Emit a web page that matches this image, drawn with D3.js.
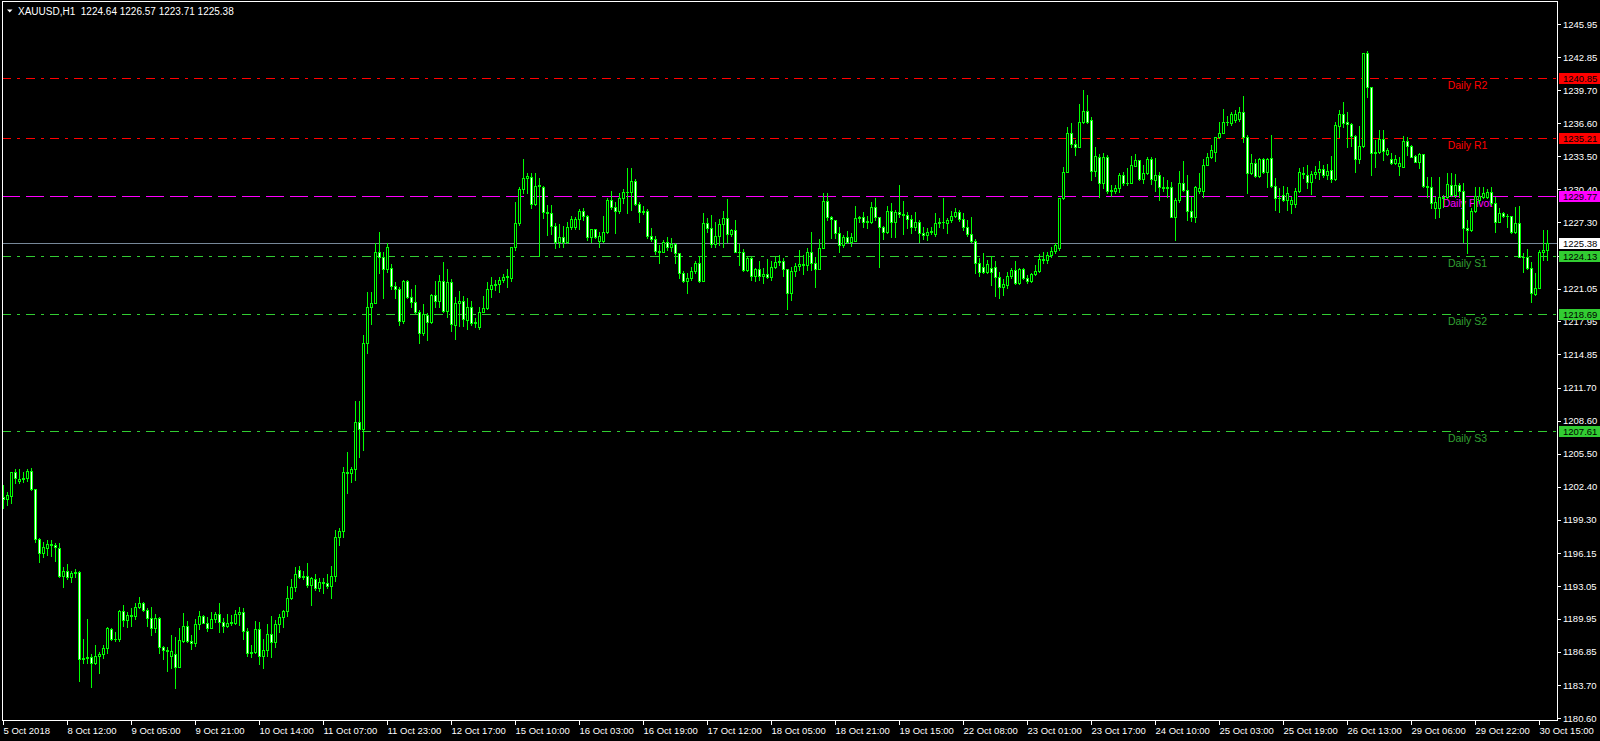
<!DOCTYPE html>
<html><head><meta charset="utf-8">
<script src="https://cdn.jsdelivr.net/npm/d3@7/dist/d3.min.js"></script>
<style>
html,body{margin:0;padding:0;background:#000;overflow:hidden}
svg{display:block}
text{font-family:"Liberation Sans",Arial,sans-serif}
</style>
</head><body>
<svg id="chart" width="1600" height="741"></svg>
<script>
// ---------------- DATA ----------------
const symbolTitle = "XAUUSD,H1";
const lastOHLC = [1224.64, 1226.57, 1223.71, 1225.38];
const bidPrice = 1225.38;

const opens = [
1201.45,1201.23,1201.55,1203.75,1202.9,1203.1,1203.2,1203.87,1202.18,1197.47,
1196.12,1196.65,1197.0,1196.9,1196.6,1193.98,1194.49,1193.92,1194.24,1194.33,
1186.14,1186.23,1186.39,1185.76,1186.48,1186.61,1187.24,1189.0,1188.05,1188.05,
1190.69,1189.84,1190.31,1190.2,1191.1,1191.41,1190.78,1190.06,1189.12,1190.0,
1187.27,1187.0,1186.5,1186.6,1185.45,1187.9,1189.28,1187.9,1187.71,1189.43,
1190.22,1189.59,1189.06,1189.9,1190.41,1189.68,1189.31,1189.59,1189.6,1190.41,
1190.6,1188.84,1186.7,1186.8,1188.96,1186.45,1187.02,1188.53,1187.8,1189.47,
1190.1,1190.72,1191.9,1192.98,1194.55,1193.92,1194.0,1193.14,1193.7,1192.83,
1193.45,1193.3,1193.0,1194.02,1197.63,1198.22,1203.75,1203.7,1204.03,1208.52,
1207.8,1215.9,1219.35,1219.7,1224.53,1224.06,1222.86,1222.96,1221.33,1221.0,
1218.03,1221.76,1220.29,1219.76,1218.88,1216.84,1218.6,1217.94,1220.45,1219.9,
1221.76,1218.97,1221.64,1217.6,1219.66,1219.88,1218.1,1219.29,1217.84,1217.4,
1218.88,1219.19,1220.98,1221.39,1221.5,1221.86,1222.1,1222.0,1224.93,1227.19,
1230.4,1231.43,1231.6,1228.98,1230.71,1230.6,1228.29,1228.2,1226.94,1225.47,
1225.94,1225.41,1226.88,1226.88,1227.6,1228.36,1227.9,1225.88,1226.66,1225.5,
1225.5,1226.41,1229.39,1228.7,1228.36,1229.61,1230.18,1230.1,1231.18,1228.98,
1228.29,1228.4,1226.0,1225.69,1224.62,1224.5,1225.41,1224.93,1225.22,1224.37,
1222.49,1221.8,1222.0,1222.7,1223.43,1221.8,1227.19,1226.72,1225.22,1226.0,
1227.13,1227.67,1226.16,1226.57,1224.53,1224.53,1222.8,1223.9,1222.2,1222.86,
1222.27,1222.4,1222.1,1223.05,1223.59,1223.6,1222.9,1220.61,1222.71,1223.21,
1223.34,1223.3,1224.53,1223.43,1222.87,1224.91,1229.33,1227.76,1227.55,1226.32,
1225.16,1225.88,1225.47,1225.5,1227.67,1227.8,1227.35,1227.35,1228.7,1227.76,
1226.88,1226.41,1228.39,1227.35,1228.3,1228.05,1228.0,1227.57,1226.82,1227.35,
1226.26,1226.1,1226.41,1226.2,1227.26,1227.35,1227.2,1227.51,1227.89,1228.23,
1227.57,1226.82,1226.19,1225.53,1223.43,1223.1,1222.6,1223.0,1223.05,1222.11,
1221.17,1221.4,1222.24,1222.8,1221.55,1222.87,1222.02,1221.8,1222.43,1222.71,
1223.81,1223.7,1224.2,1224.6,1224.9,1229.55,1232.06,1235.67,1234.66,1234.41,
1236.77,1237.77,1236.9,1232.15,1233.4,1231.02,1233.4,1230.27,1230.2,1230.49,
1231.74,1230.96,1230.96,1232.59,1233.16,1231.34,1231.9,1233.22,1231.3,1231.75,
1230.64,1230.5,1230.6,1227.82,1229.39,1230.96,1230.33,1228.38,1227.82,1230.2,
1230.2,1232.68,1233.41,1233.9,1235.29,1235.67,1236.77,1236.6,1236.9,1237.0,
1237.71,1235.35,1231.9,1232.9,1231.65,1233.22,1232.06,1233.3,1230.71,1229.55,
1229.9,1229.39,1229.0,1229.0,1230.24,1231.9,1231.75,1231.12,1231.81,1232.0,
1232.28,1231.75,1232.2,1231.34,1236.4,1237.49,1236.75,1236.52,1235.45,1233.22,
1234.48,1243.2,1240.07,1233.85,1233.9,1235.11,1233.7,1233.22,1232.85,1232.6,
1232.5,1234.95,1234.51,1233.5,1233.0,1233.69,1230.74,1230.6,1228.67,1228.6,
1229.71,1229.7,1230.8,1229.86,1230.81,1230.27,1226.73,1226.6,1228.39,1229.4,
1229.7,1229.7,1230.18,1229.08,1227.35,1228.2,1227.89,1227.9,1226.41,1227.2,
1224.06,1224.0,1222.96,1220.55,1221.08,1224.53,1224.64
];
const highs = [
1202.55,1201.93,1203.8,1204.06,1204.06,1203.81,1204.06,1204.12,1202.2,1197.59,
1197.15,1197.37,1197.37,1197.12,1197.06,1194.86,1195.11,1194.45,1194.61,1194.45,
1188.02,1189.9,1186.61,1187.49,1186.79,1187.49,1189.21,1189.06,1188.68,1190.79,
1191.25,1190.56,1191.0,1191.41,1191.98,1191.57,1190.94,1191.03,1190.41,1190.15,
1187.42,1187.27,1188.43,1188.27,1189.12,1190.53,1189.75,1188.43,1189.94,1190.69,
1190.31,1190.15,1190.56,1190.56,1191.41,1190.0,1190.41,1190.31,1190.79,1191.1,
1190.94,1189.12,1187.49,1189.75,1189.68,1188.02,1189.47,1190.22,1189.84,1190.41,
1190.79,1193.05,1193.67,1194.87,1194.93,1194.46,1195.18,1193.86,1194.18,1193.77,
1193.77,1194.18,1194.93,1198.32,1198.48,1204.22,1205.69,1204.28,1210.5,1210.5,
1216.68,1220.7,1220.7,1225.31,1226.35,1224.53,1225.31,1223.37,1221.7,1221.23,
1221.86,1221.86,1221.01,1221.39,1219.03,1219.6,1218.72,1220.54,1221.8,1222.33,
1223.52,1222.9,1221.96,1220.29,1220.82,1220.38,1220.13,1219.88,1218.3,1219.29,
1220.38,1221.7,1222.17,1221.86,1222.17,1222.42,1222.9,1225.0,1229.24,1230.65,
1233.25,1231.9,1231.97,1231.9,1231.43,1230.71,1228.92,1228.92,1227.26,1227.13,
1226.94,1227.35,1227.88,1227.82,1228.5,1228.61,1227.98,1226.7,1226.7,1226.41,
1227.92,1229.61,1230.24,1229.24,1230.08,1230.43,1232.37,1232.37,1231.34,1229.24,
1228.86,1228.51,1226.72,1226.0,1225.15,1225.63,1225.88,1225.78,1225.31,1224.43,
1222.74,1222.49,1223.05,1223.65,1224.12,1228.2,1227.67,1228.0,1227.35,1227.57,
1228.36,1229.49,1226.63,1227.51,1225.25,1224.75,1224.0,1224.0,1222.96,1223.65,
1222.96,1223.84,1223.65,1223.99,1224.21,1223.9,1222.9,1223.12,1223.49,1224.69,
1224.22,1224.84,1226.35,1224.0,1225.69,1230.09,1230.09,1227.9,1227.55,1226.88,
1226.1,1226.47,1226.25,1228.83,1227.89,1228.23,1227.92,1229.18,1229.55,1227.82,
1226.98,1228.83,1229.14,1228.45,1230.81,1229.3,1228.23,1227.98,1228.23,1227.51,
1226.88,1226.72,1226.82,1228.14,1227.67,1229.55,1227.67,1228.36,1228.67,1228.45,
1228.14,1227.51,1227.83,1225.72,1223.9,1224.44,1223.75,1224.12,1223.65,1222.65,
1221.92,1222.65,1222.96,1223.68,1222.96,1222.96,1222.33,1222.49,1223.28,1224.31,
1224.53,1224.5,1225.0,1225.3,1229.6,1232.53,1236.23,1236.61,1235.04,1238.43,
1239.75,1239.28,1237.24,1234.41,1233.72,1233.78,1233.63,1230.8,1230.8,1231.9,
1232.06,1232.37,1233.53,1233.72,1233.16,1232.68,1233.41,1233.41,1233.31,1232.06,
1231.59,1231.27,1231.05,1229.55,1232.12,1233.06,1231.74,1229.7,1230.71,1231.9,
1233.22,1233.78,1234.57,1235.35,1236.77,1237.93,1237.3,1237.71,1237.86,1238.18,
1239.18,1235.51,1233.72,1233.22,1233.31,1233.38,1233.31,1235.51,1231.49,1230.49,
1230.71,1230.64,1229.7,1230.49,1232.37,1232.47,1232.69,1232.12,1232.6,1233.07,
1232.69,1232.78,1233.54,1236.77,1237.87,1238.65,1237.71,1236.61,1235.51,1236.36,
1243.27,1243.42,1240.07,1235.04,1235.99,1235.99,1234.26,1233.79,1233.63,1233.47,
1235.42,1235.36,1234.57,1233.63,1233.79,1233.69,1231.59,1231.59,1229.65,1231.59,
1229.87,1231.97,1231.9,1231.84,1231.03,1230.96,1227.51,1228.61,1230.65,1230.65,
1230.65,1230.4,1230.65,1229.71,1228.61,1228.3,1228.07,1227.89,1228.77,1228.83,
1224.37,1224.75,1223.59,1222.49,1224.68,1226.57,1226.57
];
const lows = [
1200.36,1200.67,1200.83,1202.77,1202.77,1202.87,1202.93,1202.08,1197.15,1195.33,
1195.8,1195.96,1195.87,1195.43,1193.92,1192.98,1193.67,1193.45,1193.92,1184.13,
1185.82,1185.76,1183.56,1185.7,1184.88,1186.23,1186.7,1187.96,1187.86,1187.86,
1189.28,1189.21,1189.31,1189.94,1190.94,1190.72,1189.28,1188.43,1188.74,1186.7,
1186.17,1185.04,1185.35,1183.41,1185.4,1187.8,1187.8,1187.08,1187.42,1188.96,
1189.53,1188.84,1189.06,1189.68,1188.74,1188.74,1189.15,1189.37,1189.47,1189.37,
1188.02,1186.45,1186.39,1186.7,1185.7,1185.35,1186.49,1186.39,1187.33,1188.75,
1189.22,1190.22,1191.85,1192.61,1193.77,1193.67,1192.98,1191.26,1192.67,1192.61,
1192.42,1192.83,1191.88,1193.55,1196.91,1197.63,1201.77,1202.81,1203.03,1205.16,
1205.85,1214.95,1217.68,1219.65,1222.49,1220.2,1222.64,1221.0,1220.13,1217.62,
1217.84,1220.13,1219.35,1218.72,1215.9,1216.68,1216.21,1217.84,1219.35,1219.35,
1218.88,1218.41,1217.06,1216.3,1217.56,1217.56,1217.25,1217.62,1217.47,1217.25,
1218.85,1219.1,1220.29,1220.92,1220.76,1221.7,1221.23,1221.8,1224.68,1227.04,
1230.02,1230.02,1228.61,1228.92,1224.12,1227.73,1226.1,1226.19,1224.9,1225.0,
1225.0,1225.31,1226.63,1226.63,1226.66,1227.51,1225.63,1225.47,1225.78,1225.0,
1225.47,1226.32,1228.51,1226.32,1228.2,1229.08,1228.14,1228.45,1228.92,1227.35,
1228.07,1225.85,1225.56,1224.31,1223.43,1224.68,1224.68,1224.59,1223.49,1222.02,
1221.64,1220.6,1221.86,1222.49,1221.64,1221.8,1226.41,1225.0,1225.0,1225.15,
1225.0,1225.47,1226.0,1224.53,1223.27,1222.74,1222.74,1221.86,1221.8,1221.86,
1221.55,1222.0,1221.86,1222.96,1223.27,1222.2,1219.1,1219.98,1222.24,1222.8,
1222.43,1222.8,1222.8,1221.17,1222.87,1224.9,1227.5,1225.85,1225.85,1224.53,
1224.94,1225.38,1225.06,1225.5,1227.35,1226.82,1226.79,1227.2,1227.51,1223.12,
1225.69,1226.32,1225.94,1225.94,1227.82,1226.19,1226.72,1226.26,1226.57,1225.47,
1225.69,1225.63,1226.19,1226.04,1226.82,1226.72,1226.26,1227.35,1227.76,1227.45,
1226.57,1226.04,1225.41,1222.55,1222.24,1222.55,1222.49,1221.39,1220.36,1220.14,
1220.45,1221.08,1222.02,1221.49,1221.49,1221.96,1221.55,1221.71,1222.33,1222.65,
1223.43,1223.5,1224.0,1224.4,1224.68,1229.45,1232.06,1234.35,1233.63,1234.35,
1236.67,1236.67,1231.27,1231.65,1229.7,1230.49,1230.02,1229.77,1230.02,1230.18,
1230.8,1230.8,1230.96,1232.59,1231.27,1231.0,1231.84,1230.9,1230.27,1229.39,
1230.27,1229.7,1227.82,1225.62,1229.23,1230.27,1227.51,1227.45,1227.35,1230.02,
1229.7,1232.68,1233.3,1233.09,1235.2,1235.67,1236.45,1236.45,1236.77,1236.86,
1234.88,1230.08,1231.84,1231.59,1231.52,1231.9,1230.58,1230.64,1228.45,1228.29,
1229.33,1228.45,1228.13,1228.76,1230.18,1231.5,1230.49,1229.96,1231.44,1231.34,
1231.53,1231.34,1231.12,1231.28,1235.36,1236.24,1234.42,1234.48,1232.06,1232.91,
1234.42,1239.12,1231.75,1232.47,1233.79,1233.16,1233.63,1232.79,1232.79,1231.75,
1232.47,1233.63,1233.41,1232.94,1232.38,1230.65,1229.71,1228.61,1227.67,1227.83,
1228.77,1229.6,1229.77,1229.71,1229.71,1225.47,1224.37,1226.5,1228.29,1229.08,
1229.55,1229.55,1228.92,1226.41,1227.35,1227.76,1226.88,1226.26,1226.32,1224.0,
1222.65,1222.87,1219.82,1220.45,1221.08,1223.74,1223.71
];
const closes = [
1201.23,1201.61,1203.75,1203.18,1203.1,1203.2,1203.87,1202.18,1197.47,1196.12,
1196.68,1197.0,1196.9,1196.7,1193.98,1194.49,1193.92,1194.24,1194.33,1186.14,
1186.23,1186.39,1185.76,1186.48,1186.61,1187.24,1189.06,1188.05,1188.1,1190.69,
1189.84,1190.31,1190.2,1191.1,1191.41,1190.78,1190.06,1189.12,1190.0,1187.27,
1187.0,1186.9,1186.92,1185.45,1187.96,1189.28,1187.9,1187.71,1189.43,1190.22,
1189.59,1189.06,1189.9,1190.41,1189.68,1189.31,1189.59,1189.68,1190.41,1190.63,
1188.84,1186.7,1186.85,1188.96,1186.48,1187.02,1188.53,1187.8,1189.47,1190.1,
1190.72,1191.88,1192.98,1194.14,1193.92,1194.0,1193.14,1193.77,1192.83,1193.45,
1193.3,1193.0,1194.02,1197.63,1198.22,1203.75,1203.7,1204.03,1208.52,1207.8,
1215.9,1219.35,1219.72,1224.53,1224.06,1222.86,1224.93,1221.33,1221.0,1218.03,
1221.76,1220.29,1219.76,1218.88,1216.84,1218.63,1217.94,1220.45,1219.91,1221.76,
1218.97,1221.64,1217.68,1219.66,1219.88,1218.16,1219.29,1217.84,1217.9,1218.88,
1219.19,1220.98,1221.39,1221.5,1221.86,1222.11,1222.2,1224.93,1227.19,1230.4,
1231.43,1231.65,1228.98,1230.71,1230.8,1228.29,1228.2,1226.94,1225.47,1225.94,
1225.41,1226.88,1227.57,1227.6,1228.36,1227.89,1225.88,1226.66,1225.88,1226.0,
1226.41,1229.39,1228.7,1228.36,1229.61,1230.18,1230.1,1231.18,1228.98,1228.29,
1228.4,1226.0,1225.69,1224.62,1224.5,1225.41,1224.93,1225.22,1224.37,1222.49,
1221.8,1222.02,1222.74,1223.43,1221.8,1227.19,1226.72,1225.22,1226.0,1227.13,
1227.67,1226.16,1226.57,1224.53,1224.5,1222.8,1223.9,1222.27,1222.86,1222.27,
1222.4,1222.1,1223.05,1223.59,1223.6,1222.9,1220.61,1222.71,1223.21,1223.34,
1223.3,1224.53,1223.43,1222.87,1224.91,1229.33,1227.76,1227.6,1226.32,1225.16,
1225.88,1225.47,1225.88,1227.67,1227.8,1227.35,1227.4,1228.7,1227.76,1226.88,
1226.41,1228.39,1227.35,1228.3,1228.05,1228.0,1227.57,1226.82,1227.35,1226.26,
1226.1,1226.41,1226.51,1227.26,1227.35,1227.3,1227.51,1227.89,1228.23,1227.57,
1226.82,1226.19,1225.53,1223.43,1222.65,1222.6,1223.34,1222.6,1222.11,1221.17,
1221.49,1222.24,1222.8,1221.55,1222.87,1222.02,1221.8,1222.43,1222.71,1223.81,
1223.7,1224.2,1224.6,1225.15,1229.55,1232.06,1235.67,1234.66,1234.41,1236.77,
1237.77,1236.77,1232.15,1233.53,1231.02,1233.4,1230.27,1230.3,1230.49,1231.74,
1230.96,1231.0,1232.68,1233.16,1231.34,1231.9,1233.22,1231.34,1231.75,1230.64,
1230.5,1230.6,1227.82,1229.39,1230.96,1230.33,1228.38,1227.82,1230.58,1230.49,
1232.68,1233.41,1234.1,1235.29,1235.67,1236.77,1236.7,1237.46,1237.46,1237.71,
1235.35,1231.9,1232.9,1231.65,1233.22,1232.06,1233.22,1230.71,1229.55,1229.6,
1229.39,1230.08,1229.39,1230.24,1231.99,1231.8,1231.12,1231.81,1232.06,1232.28,
1231.75,1232.16,1231.34,1236.46,1237.49,1236.68,1236.52,1235.45,1233.22,1234.48,
1243.2,1240.07,1233.85,1233.9,1235.11,1234.01,1234.1,1232.85,1233.22,1232.85,
1234.95,1234.51,1233.47,1233.0,1233.69,1230.74,1230.6,1229.14,1229.17,1229.71,
1229.6,1230.9,1229.86,1230.81,1230.27,1226.73,1226.6,1228.39,1229.77,1229.77,
1230.08,1230.18,1229.08,1227.35,1228.2,1227.89,1227.9,1226.41,1227.2,1224.06,
1224.0,1222.96,1220.61,1221.08,1224.53,1224.69,1225.38
];

const timeLabels = ["5 Oct 2018","8 Oct 12:00","9 Oct 05:00","9 Oct 21:00","10 Oct 14:00",
"11 Oct 07:00","11 Oct 23:00","12 Oct 17:00","15 Oct 10:00","16 Oct 03:00","16 Oct 19:00",
"17 Oct 12:00","18 Oct 05:00","18 Oct 21:00","19 Oct 15:00","22 Oct 08:00","23 Oct 01:00",
"23 Oct 17:00","24 Oct 10:00","25 Oct 03:00","25 Oct 19:00","26 Oct 13:00","29 Oct 06:00",
"29 Oct 22:00","30 Oct 15:00"];

const priceTicks = [1245.95,1242.85,1239.70,1236.60,1233.50,1230.40,1227.30,1224.15,1221.05,
1217.95,1214.85,1211.70,1208.60,1205.50,1202.40,1199.30,1196.15,1193.05,1189.95,1186.85,
1183.70,1180.60];

const levelNames  = ["Daily R2","Daily R1","Daily Pivot","Daily S1","Daily S2","Daily S3"];
const levelValues = [1240.85, 1235.21, 1229.77, 1224.13, 1218.69, 1207.61];

// ---------------- STYLE ----------------
const BULL_FILL = "#000000", BEAR_FILL = "#ffffff", CANDLE = "#00ff00";
const levelStyle = {
  "Daily R2":   {line:"#ff0000", text:"#ff0000", dash:"9,6,3,6", box:"#ff0000"},
  "Daily R1":   {line:"#ff0000", text:"#ff0000", dash:"9,6,3,6", box:"#ff0000"},
  "Daily Pivot":{line:"#ff00ff", text:"#ff00ff", dash:"18,6",    box:"#ff00ff"},
  "Daily S1":   {line:"#32cd32", text:"#32a032", dash:"9,6,3,6", box:"#32cd32"},
  "Daily S2":   {line:"#32cd32", text:"#32a032", dash:"9,6,3,6", box:"#32cd32"},
  "Daily S3":   {line:"#32cd32", text:"#32a032", dash:"9,6,3,6", box:"#32cd32"}
};

// ---------------- LAYOUT ----------------
const plot = {left:2, top:1, right:1557, bottom:720};
const n = closes.length;
const xs = d3.scaleLinear().domain([0, n - 1]).range([3, 3 + 4 * (n - 1)]);
const ys = d3.scaleLinear().domain([1180.60, 1245.95]).range([718.2, 24.1]);

const svg = d3.select("#chart");
svg.append("rect").attr("width",1600).attr("height",741).attr("fill","#000");

const crisp = v => Math.round(v) + 0.5;

// level lines
const gLevels = svg.append("g");
levelNames.forEach((name, k) => {
  const st = levelStyle[name];
  const y = crisp(ys(levelValues[k]));
  gLevels.append("line").attr("x1", plot.left).attr("x2", plot.right)
    .attr("y1", y).attr("y2", y).attr("stroke", st.line).attr("stroke-width", 1)
    .attr("stroke-dasharray", st.dash).attr("shape-rendering","crispEdges");
  gLevels.append("text").attr("x", 1467.5).attr("y", y + 7).attr("dy","0.35em")
    .attr("text-anchor","middle").attr("font-size","10.5px").attr("fill", st.text).text(name);
});
// bid line
gLevels.append("line").attr("x1", plot.left).attr("x2", plot.right)
  .attr("y1", crisp(ys(bidPrice))).attr("y2", crisp(ys(bidPrice)))
  .attr("stroke", "#778899").attr("shape-rendering","crispEdges");

// candles
const gC = svg.append("g").attr("shape-rendering","crispEdges");
const idx = d3.range(n);
idx.forEach(i => {
  const o = opens[i], h = highs[i], l = lows[i], c = closes[i];
  const col = Math.round(xs(i));
  const hi = Math.max(h, o, c), lo = Math.min(l, o, c);
  const yh = Math.round(ys(hi)), yl = Math.round(ys(lo));
  gC.append("rect").attr("x", col).attr("y", yh).attr("width",1).attr("height", yl - yh + 1).attr("fill", CANDLE);
  const yt = Math.round(ys(Math.max(o, c))), yb = Math.round(ys(Math.min(o, c)));
  gC.append("rect").attr("x", col - 1).attr("y", yt).attr("width",3).attr("height", yb - yt + 1).attr("fill", CANDLE);
  if (yb - yt >= 2 && o !== c) {
    gC.append("rect").attr("x", col).attr("y", yt + 1).attr("width",1).attr("height", yb - yt - 1)
      .attr("fill", c > o ? BULL_FILL : BEAR_FILL);
  }
});

// frame
svg.append("rect").attr("x", plot.left + 0.5).attr("y", plot.top + 0.5)
  .attr("width", plot.right - plot.left).attr("height", plot.bottom - plot.top)
  .attr("fill","none").attr("stroke","#fff").attr("shape-rendering","crispEdges");

// y axis
const yAxis = d3.axisRight(ys).tickValues(priceTicks).tickSize(3).tickPadding(2)
  .tickFormat(d3.format(".2f"));
const gy = svg.append("g").attr("transform", `translate(${plot.right + 1},0)`).call(yAxis);
gy.select(".domain").remove();
gy.selectAll(".tick line").attr("stroke","#fff").attr("shape-rendering","crispEdges");
gy.selectAll(".tick text").attr("fill","#fff").attr("font-size","9.5px")
  .attr("font-family","Liberation Sans, Arial, sans-serif");

// x axis
const xAxis = d3.axisBottom(xs).tickValues(d3.range(0, n, 16)).tickSize(4).tickPadding(3)
  .tickFormat(i => timeLabels[i / 16]);
const gx = svg.append("g").attr("transform", `translate(0,${plot.bottom + 0.5})`).call(xAxis);
gx.select(".domain").remove();
gx.selectAll(".tick line").attr("stroke","#fff").attr("shape-rendering","crispEdges");
gx.selectAll(".tick text").attr("fill","#fff").attr("font-size","9.5px")
  .attr("text-anchor","start").attr("x", 0)
  .attr("font-family","Liberation Sans, Arial, sans-serif");

// price boxes on right axis
const boxes = levelNames.map((nm, k) => ({v: levelValues[k], bg: levelStyle[nm].box}));
boxes.push({v: bidPrice, bg: "#ffffff"});
const gB = svg.append("g");
boxes.forEach(b => {
  const y = Math.round(ys(b.v));
  gB.append("rect").attr("x", plot.right + 2).attr("y", y - 5).attr("width", 41).attr("height", 11)
    .attr("fill", b.bg).attr("shape-rendering","crispEdges");
  gB.append("text").attr("x", plot.right + 6).attr("y", y + 0.5).attr("dy","0.35em")
    .attr("font-size","9.5px").attr("fill","#000").text(d3.format(".2f")(b.v));
});

// title
svg.append("path").attr("d","M7,9.5 L12.5,9.5 L9.75,12.5 Z").attr("fill","#fff");
svg.append("text").attr("x", 18).attr("y", 14.5).attr("font-size","10px").attr("fill","#fff")
  .attr("xml:space","preserve")
  .text(symbolTitle + "  " + lastOHLC.map(d3.format(".2f")).join(" "));
</script>
</body></html>
